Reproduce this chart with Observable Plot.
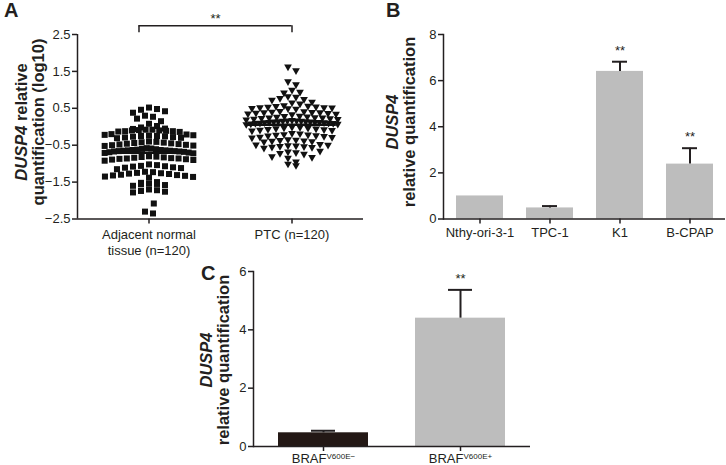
<!DOCTYPE html>
<html><head><meta charset="utf-8">
<script src="https://cdn.jsdelivr.net/npm/d3@7"></script>
<script src="https://cdn.jsdelivr.net/npm/@observablehq/plot@0.6"></script>
<style>
body{margin:0;background:#fff;font-family:"Liberation Sans",Arial,sans-serif;}
#wrap{position:relative;width:726px;height:465px;overflow:hidden;background:#fff;}
.panel{position:absolute;}
.panel svg{overflow:visible;}
.lbl{position:absolute;font-weight:bold;font-size:20px;line-height:20px;color:#231f20;}
.ytitle{position:absolute;width:240px;text-align:center;transform:translate(-50%,-50%) rotate(-90deg);font-weight:bold;font-size:16.5px;line-height:17px;color:#231f20;white-space:nowrap;}
</style></head>
<body><div id="wrap"></div>
<script>
// ---------- Panel A data ----------
const groupsA = ["Adjacent normal\ntissue (n=120)", "PTC (n=120)"];
const yTicksA = [-2.5, -1.5, -0.5, 0.5, 1.5, 2.5];
const normalValues = [
  0.52, 0.48, 0.46, 0.42, 0.38, 0.30, 0.27, 0.22, 0.15, 0.08, 0.02, -0.02,
  -0.05, -0.06, -0.08, -0.08, -0.09, -0.10, -0.10, -0.11, -0.12, -0.12, -0.13, -0.14,
  -0.20, -0.21, -0.22, -0.23, -0.24, -0.25, -0.25, -0.26, -0.27, -0.28, -0.29, -0.30, -0.31,
  -0.40, -0.41, -0.42, -0.43, -0.44, -0.45, -0.46, -0.47, -0.48, -0.49, -0.50, -0.51, -0.52,
  -0.58, -0.59, -0.60, -0.61, -0.62, -0.63, -0.63, -0.64, -0.64, -0.65, -0.65, -0.66, -0.66, -0.67, -0.67, -0.68, -0.69, -0.70, -0.71, -0.72,
  -0.80, -0.81, -0.82, -0.83, -0.84, -0.85, -0.86, -0.86, -0.87, -0.88, -0.89, -0.90, -0.92,
  -1.02, -1.04, -1.06, -1.07, -1.08, -1.10, -1.11, -1.12, -1.15,
  -1.22, -1.23, -1.25, -1.26, -1.27, -1.28, -1.30, -1.31, -1.32, -1.33, -1.35, -1.36, -1.38,
  -1.50, -1.52, -1.54, -1.55, -1.56, -1.58, -1.60,
  -1.70, -1.72, -1.74, -1.76, -1.78,
  -2.08, -2.30, -2.35
];
const ptcValues = [
  1.60, 1.50, 1.20, 1.12, 0.97, 0.92, 0.90,
  0.80, 0.78, 0.75, 0.72, 0.70,
  0.65, 0.63, 0.60,
  0.55, 0.54, 0.53, 0.52, 0.51, 0.50, 0.50, 0.49, 0.48, 0.47, 0.46,
  0.40, 0.39, 0.38, 0.37, 0.36, 0.36, 0.35, 0.34, 0.33, 0.32, 0.31,
  0.27, 0.26, 0.25, 0.24, 0.23, 0.22, 0.22, 0.21, 0.20, 0.19, 0.18, 0.17,
  0.15, 0.14, 0.14, 0.13, 0.13, 0.12, 0.12, 0.11, 0.11, 0.10, 0.10, 0.10, 0.09, 0.09, 0.08, 0.08, 0.07, 0.07, 0.06, 0.05, 0.04,
  -0.03, -0.04, -0.05, -0.06, -0.07, -0.08, -0.09, -0.10, -0.11, -0.12, -0.13,
  -0.20, -0.21, -0.23, -0.24, -0.25, -0.26, -0.27, -0.28, -0.30, -0.31, -0.32,
  -0.37, -0.38, -0.39, -0.40, -0.41, -0.42, -0.43,
  -0.50, -0.51, -0.52, -0.53, -0.54, -0.55, -0.56, -0.57, -0.58, -0.60,
  -0.68, -0.70, -0.72, -0.74, -0.76,
  -0.83, -0.85, -0.87,
  -0.97, -1.03, -1.07
];
const sigA = ["**"];

// ---------- Panel B data ----------
const cellLines = ["Nthy-ori-3-1", "TPC-1", "K1", "B-CPAP"];
const cellMeans = [1.0, 0.48, 6.4, 2.38];
const cellErrTop = [null, 0.56, 6.82, 3.07];
const cellSig = ["", "", "**", "**"];
const yTicksB = [0, 2, 4, 6, 8];

// ---------- Panel C data ----------
const brafGroups = ["BRAF V600E−", "BRAF V600E+"];
const brafSup = ["V600E−", "V600E+"];
const brafMeans = [0.47, 4.4];
const brafErrTop = [0.54, 5.37];
const brafSig = ["", "**"];
const brafColors = ["#231815", "#bdbdbd"];
const yTicksC = [0, 2, 4, 6];

const ink = "#231f20";
const font = "'Liberation Sans', Arial, sans-serif";
const wrap = document.getElementById("wrap");

function place(el, left, top) {
  const d = document.createElement("div");
  d.className = "panel";
  d.style.left = left + "px"; d.style.top = top + "px";
  d.appendChild(el); wrap.appendChild(d);
}
function html(cls, h, left, top) {
  const d = document.createElement("div");
  d.className = cls; d.innerHTML = h;
  d.style.left = left + "px"; d.style.top = top + "px";
  wrap.appendChild(d);
}

// scatter-dot layout: rows of nearby values spread horizontally, compressed when crowded
function swarm(values, gi, gap, dx, maxW) {
  const sorted = values.slice().sort((a, b) => b - a);
  const rows = []; let cur = null;
  for (const v of sorted) {
    if (!cur || cur[0] - v > gap + 1e-9) { cur = []; rows.push(cur); }
    cur.push(v);
  }
  const out = [];
  rows.forEach((row, r) => {
    const n = row.length;
    const step = n > 1 ? Math.min(dx, maxW / (n - 1)) : 0;
    // shuffle-free interleave: alternate values so the row is not slanted
    const order = [];
    row.forEach((v, k) => (k % 2 ? order.push(v) : order.unshift(v)));
    const shift = (n === 1 && r % 2) ? dx * 0.6 : (n === 1 ? -dx * 0.3 : 0);
    order.forEach((v, k) => {
      out.push({gi, value: v, x: gi + shift + (k - (n - 1) / 2) * step});
    });
  });
  return out;
}

const triDown = {
  draw(ctx, size) {
    const s = Math.sqrt(size);
    ctx.moveTo(-0.62 * s, -0.5 * s);
    ctx.lineTo(0.62 * s, -0.5 * s);
    ctx.lineTo(0, 0.58 * s);
    ctx.closePath();
  }
};

const dataA = [...swarm(normalValues, 0, 0.15, 0.056, 0.62), ...swarm(ptcValues, 1, 0.15, 0.056, 0.64)];
const meansA = [{gi: 0, mean: d3.mean(normalValues)}, {gi: 1, mean: d3.mean(ptcValues)}];

const plotA = Plot.plot({
  width: 370, height: 262, marginLeft: 77, marginRight: 7, marginTop: 34, marginBottom: 43.5,
  style: {fontFamily: font, fontSize: "13px", color: ink, background: "transparent"},
  x: {type: "linear", domain: [-0.5, 1.5]},
  y: {domain: [-2.5, 2.5]},
  marks: [
    Plot.axisY({ticks: yTicksA, tickFormat: d3.format(".1f"), tickSize: 5, tickPadding: 2, label: null, strokeWidth: 1.5}),
    Plot.axisX({ticks: [0, 1], tickFormat: i => groupsA[i], tickSize: 5, tickPadding: 4, label: null, lineHeight: 1.22, strokeWidth: 1.5}),
    Plot.ruleX([-0.5], {y1: -2.5, y2: 2.5, stroke: ink, strokeWidth: 1.5}),
    Plot.ruleY([-2.5], {stroke: ink, strokeWidth: 1.5}),
    Plot.dot(dataA.filter(d => d.gi === 0), {x: "x", y: "value", symbol: "square", r: 3.4, fill: "#111", stroke: "none"}),
    Plot.dot(dataA.filter(d => d.gi === 1), {x: "x", y: "value", symbol: triDown, r: 3.5, fill: "#111", stroke: "none"}),
    Plot.ruleY(meansA, {y: "mean", x1: d => d.gi - 0.31, x2: d => d.gi + 0.31, stroke: "#111", strokeWidth: 2.5}),
    Plot.ruleY([2.74], {x1: -0.07, x2: 1, stroke: ink, strokeWidth: 1.5}),
    Plot.ruleX([-0.07, 1], {x: d => d, y1: 2.55, y2: 2.74, stroke: ink, strokeWidth: 1.5}),
    Plot.text(sigA, {x: 0.465, y: 2.93, text: d => d, fontSize: 13, fill: ink})
  ]
});
place(plotA, 0, 0);

// ---------- Panel B ----------
const dataB = cellLines.map((c, i) => ({cat: c, mean: cellMeans[i], err: cellErrTop[i], sig: cellSig[i]}));
const errB = dataB.filter(d => d.err != null);
const plotB = Plot.plot({
  width: 366, height: 262, marginLeft: 83, marginRight: 1, marginTop: 34, marginBottom: 43.5,
  style: {fontFamily: font, fontSize: "13px", color: ink, background: "transparent"},
  x: {type: "band", domain: cellLines, paddingInner: 0.333, paddingOuter: 0.167},
  y: {domain: [0, 8]},
  marks: [
    Plot.barY(dataB, {x: "cat", y: "mean", fill: "#bdbdbd"}),
    Plot.ruleX(errB, {x: "cat", y1: "mean", y2: "err", stroke: ink, strokeWidth: 2}),
    Plot.tickY(errB, {x: "cat", y: "err", insetLeft: 16, insetRight: 16, stroke: ink, strokeWidth: 2}),
    Plot.text(dataB.filter(d => d.sig), {x: "cat", y: "err", text: "sig", dy: -11, fontSize: 13, fill: ink}),
    Plot.axisY({ticks: yTicksB, tickFormat: d3.format("d"), tickSize: 5, tickPadding: 2, label: null, strokeWidth: 1.5}),
    Plot.axisX({tickSize: 5, tickPadding: 4, label: null, strokeWidth: 1.5}),
    Plot.frame({anchor: "left", stroke: ink, strokeWidth: 1.5}),
    Plot.ruleY([0], {stroke: ink, strokeWidth: 1.5})
  ]
});
place(plotB, 360, 0);

// ---------- Panel C ----------
const dataC = brafGroups.map((g, i) => ({g, mean: brafMeans[i], err: brafErrTop[i], sig: brafSig[i], color: brafColors[i]}));
const plotC = Plot.plot({
  width: 350, height: 215, marginLeft: 63, marginRight: 10, marginTop: 21, marginBottom: 19,
  style: {fontFamily: font, fontSize: "13px", color: ink, background: "transparent"},
  x: {type: "band", domain: brafGroups, paddingInner: 0.343, paddingOuter: 0.18},
  y: {domain: [0, 6]},
  marks: [
    Plot.barY(dataC, {x: "g", y: "mean", fill: "color"}),
    Plot.ruleX(dataC, {x: "g", y1: "mean", y2: "err", stroke: ink, strokeWidth: 2}),
    Plot.tickY(dataC, {x: "g", y: "err", insetLeft: 33, insetRight: 33, stroke: ink, strokeWidth: 2}),
    Plot.text(dataC.filter(d => d.sig), {x: "g", y: "err", text: "sig", dy: -11, fontSize: 13, fill: ink}),
    Plot.axisY({ticks: yTicksC, tickFormat: d3.format("d"), tickSize: 5, tickPadding: 2, label: null, strokeWidth: 1.5}),
    Plot.axisX({tickSize: 5, tickPadding: 2, label: null, strokeWidth: 1.5}),
    Plot.frame({anchor: "left", stroke: ink, strokeWidth: 1.5}),
    Plot.ruleY([0], {stroke: ink, strokeWidth: 1.5})
  ]
});
d3.select(plotC).selectAll('g[aria-label="x-axis tick label"] text').each(function(d, i) {
  const t = d3.select(this);
  t.text("BRAF");
  t.append("tspan").attr("dy", "-0.45em").attr("font-size", "8px").text(brafSup[i]);
});
place(plotC, 190, 250);

// ---------- titles / letters ----------
html("lbl", "A", 4, 0);
html("lbl", "B", 386, 0);
html("lbl", "C", 201, 263);
html("ytitle", "<i>DUSP4</i> relative<br>quantification (log10)", 29.5, 122);
html("ytitle", "<i>DUSP4</i><br>relative quantification", 400.5, 122);
html("ytitle", "<i>DUSP4</i><br>relative quantification", 215, 360);
</script>
</body></html>
